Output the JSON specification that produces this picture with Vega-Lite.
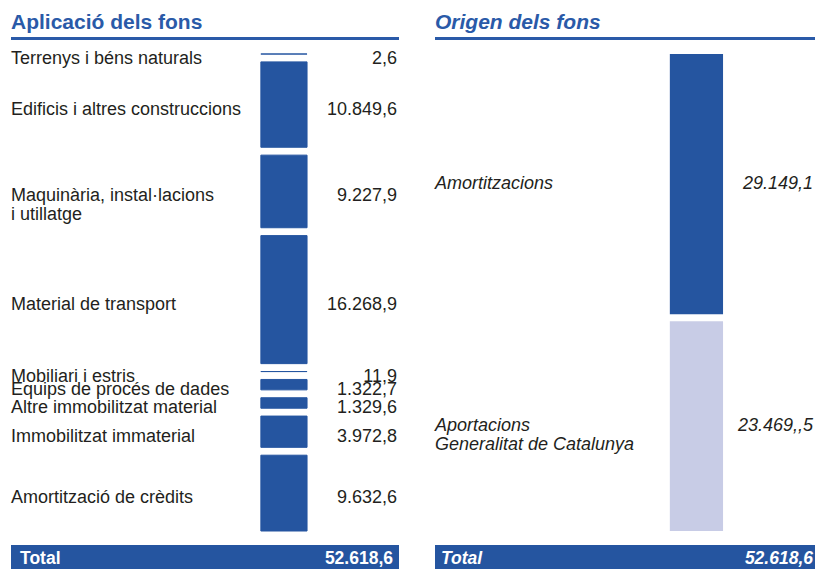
{
  "$schema": "https://vega.github.io/schema/vega-lite/v6.json",
  "padding": {"left": 11, "top": 12, "right": 5, "bottom": 0},
  "config": {"view": {"stroke": null}, "font": "Liberation Sans"},
  "datasets": {
    "aplicacio": [
      {"order": 1, "name": "Terrenys i béns naturals", "amount": 2.6, "text": "2,6"},
      {"order": 2, "name": "Edificis i altres construccions", "amount": 10849.6, "text": "10.849,6"},
      {"order": 3, "name": "Maquinària, instal·lacions\ni utillatge", "amount": 9227.9, "text": "9.227,9"},
      {"order": 4, "name": "Material de transport", "amount": 16268.9, "text": "16.268,9"},
      {"order": 5, "name": "Mobiliari i estris", "amount": 11.9, "text": "11,9"},
      {"order": 6, "name": "Equips de procés de dades", "amount": 1322.7, "text": "1.322,7"},
      {"order": 7, "name": "Altre immobilitzat material", "amount": 1329.6, "text": "1.329,6"},
      {"order": 8, "name": "Immobilitzat immaterial", "amount": 3972.8, "text": "3.972,8"},
      {"order": 9, "name": "Amortització de crèdits", "amount": 9632.6, "text": "9.632,6"}
    ],
    "origen": [
      {"order": 1, "name": "Amortitzacions", "amount": 29149.1, "text": "29.149,1"},
      {"order": 2, "name": "Aportacions\nGeneralitat de Catalunya", "amount": 23469.5, "text": "23.469,,5"}
    ],
    "totals": [
      {"panel": "aplicacio", "label": "Total", "text": "52.618,6"},
      {"panel": "origen", "label": "Total", "text": "52.618,6"}
    ]
  },
  "spacing": 36,
  "resolve": {"scale": {"x": "independent", "y": "independent", "color": "independent"}},
  "hconcat": [
    {
      "spacing": 14,
      "bounds": "flush",
      "resolve": {"scale": {"x": "independent", "y": "independent"}},
      "vconcat": [
        {
          "width": 388, "height": 3,
          "data": {"values": [{"title": "Aplicació dels fons"}]},
          "title": {"text": "Aplicació dels fons", "anchor": "start", "frame": "group", "fontSize": 21, "fontWeight": "bold", "font": "Liberation Sans", "color": "#2a5aa8", "baseline": "alphabetic", "offset": -13},
          "mark": {"type": "rect", "color": "#2a5aa8"},
          "encoding": {
            "x": {"datum": 0, "type": "quantitative", "scale": {"domain": [0, 1], "nice": false}, "axis": null},
            "x2": {"datum": 1},
            "y": {"datum": 0, "type": "quantitative", "scale": {"domain": [0, 1], "nice": false}, "axis": null},
            "y2": {"datum": 1}
          }
        },
        {
          "width": 388, "height": 477,
          "data": {"name": "aplicacio"},
          "transform": [
            {"window": [{"op": "sum", "field": "amount", "as": "cum"}, {"op": "row_number", "as": "idx"}], "sort": [{"field": "order", "order": "ascending"}]},
            {"calculate": "datum.cum - datum.amount + (datum.idx - 1) * 1000", "as": "y0"},
            {"calculate": "datum.cum + (datum.idx - 1) * 1000", "as": "y1"},
            {"calculate": "(datum.y0 + datum.y1) / 2", "as": "ymid"}
          ],
          "layer": [
            {
              "mark": {"type": "rect", "color": "#2555a0", "stroke": "#2555a0", "strokeWidth": 1},
              "encoding": {
                "x": {"datum": 64.4, "type": "quantitative", "scale": {"domain": [0, 100], "nice": false, "zero": false}, "axis": null},
                "x2": {"datum": 76.3},
                "y": {"field": "y0", "type": "quantitative", "scale": {"reverse": true, "nice": false, "zero": true}, "axis": null},
                "y2": {"field": "y1"}
              }
            },
            {
              "mark": {"type": "text", "align": "left", "baseline": "middle", "dy": 5, "fontSize": 18, "lineBreak": "\n", "lineHeight": 19, "color": "#231f20"},
              "encoding": {
                "x": {"datum": 0, "type": "quantitative"},
                "y": {"field": "ymid", "type": "quantitative"},
                "text": {"field": "name"}
              }
            },
            {
              "mark": {"type": "text", "align": "right", "baseline": "middle", "dy": 5, "fontSize": 18, "color": "#231f20"},
              "encoding": {
                "x": {"datum": 99.5, "type": "quantitative"},
                "y": {"field": "ymid", "type": "quantitative"},
                "text": {"field": "text"}
              }
            }
          ]
        },
        {
          "width": 388, "height": 28,
          "data": {"name": "totals"},
          "transform": [{"filter": "datum.panel == 'aplicacio'"}],
          "layer": [
            {
              "mark": {"type": "rect", "color": "#2555a0"},
              "encoding": {
                "x": {"datum": 0, "type": "quantitative", "scale": {"domain": [0, 1], "nice": false}, "axis": null},
                "x2": {"datum": 1},
                "y": {"datum": 0, "type": "quantitative", "scale": {"domain": [0, 1], "nice": false}, "axis": null},
                "y2": {"datum": 1}
              }
            },
            {
              "mark": {"type": "text", "align": "left", "baseline": "middle", "dx": 9, "fontSize": 17.5, "fontWeight": "bold", "color": "white"},
              "encoding": {"x": {"datum": 0, "type": "quantitative"}, "text": {"field": "label"}}
            },
            {
              "mark": {"type": "text", "align": "right", "baseline": "middle", "dx": -6, "fontSize": 17.5, "fontWeight": "bold", "color": "white"},
              "encoding": {"x": {"datum": 1, "type": "quantitative"}, "text": {"field": "text"}}
            }
          ]
        }
      ]
    },
    {
      "spacing": 14,
      "bounds": "flush",
      "resolve": {"scale": {"x": "independent", "y": "independent"}},
      "vconcat": [
        {
          "width": 380, "height": 3,
          "data": {"values": [{"title": "Origen dels fons"}]},
          "title": {"text": "Origen dels fons", "anchor": "start", "frame": "group", "fontSize": 21, "fontWeight": "bold", "fontStyle": "italic", "font": "Liberation Sans", "color": "#2a5aa8", "baseline": "alphabetic", "offset": -13},
          "mark": {"type": "rect", "color": "#2a5aa8"},
          "encoding": {
            "x": {"datum": 0, "type": "quantitative", "scale": {"domain": [0, 1], "nice": false}, "axis": null},
            "x2": {"datum": 1},
            "y": {"datum": 0, "type": "quantitative", "scale": {"domain": [0, 1], "nice": false}, "axis": null},
            "y2": {"datum": 1}
          }
        },
        {
          "width": 380, "height": 477,
          "data": {"name": "origen"},
          "transform": [
            {"window": [{"op": "sum", "field": "amount", "as": "cum"}, {"op": "row_number", "as": "idx"}], "sort": [{"field": "order", "order": "ascending"}]},
            {"calculate": "datum.cum - datum.amount + (datum.idx - 1) * 784", "as": "y0"},
            {"calculate": "datum.cum + (datum.idx - 1) * 784", "as": "y1"},
            {"calculate": "(datum.y0 + datum.y1) / 2", "as": "ymid"}
          ],
          "layer": [
            {
              "mark": {"type": "rect"},
              "encoding": {
                "x": {"datum": 61.8, "type": "quantitative", "scale": {"domain": [0, 100], "nice": false, "zero": false}, "axis": null},
                "x2": {"datum": 75.8},
                "y": {"field": "y0", "type": "quantitative", "scale": {"reverse": true, "nice": false, "zero": true}, "axis": null},
                "y2": {"field": "y1"},
                "color": {"field": "name", "type": "nominal", "scale": {"domain": ["Amortitzacions", "Aportacions\nGeneralitat de Catalunya"], "range": ["#2555a0", "#c8cce6"]}, "legend": null}
              }
            },
            {
              "mark": {"type": "text", "align": "left", "baseline": "middle", "dy": 0, "fontSize": 18, "fontStyle": "italic", "lineBreak": "\n", "lineHeight": 19, "color": "#231f20"},
              "encoding": {
                "x": {"datum": 0, "type": "quantitative"},
                "y": {"field": "ymid", "type": "quantitative"},
                "text": {"field": "name"}
              }
            },
            {
              "mark": {"type": "text", "align": "right", "baseline": "middle", "dy": 0, "fontSize": 18, "fontStyle": "italic", "color": "#231f20"},
              "encoding": {
                "x": {"datum": 99.5, "type": "quantitative"},
                "y": {"field": "ymid", "type": "quantitative"},
                "text": {"field": "text"}
              }
            }
          ]
        },
        {
          "width": 380, "height": 28,
          "data": {"name": "totals"},
          "transform": [{"filter": "datum.panel == 'origen'"}],
          "layer": [
            {
              "mark": {"type": "rect", "color": "#2555a0"},
              "encoding": {
                "x": {"datum": 0, "type": "quantitative", "scale": {"domain": [0, 1], "nice": false}, "axis": null},
                "x2": {"datum": 1},
                "y": {"datum": 0, "type": "quantitative", "scale": {"domain": [0, 1], "nice": false}, "axis": null},
                "y2": {"datum": 1}
              }
            },
            {
              "mark": {"type": "text", "align": "left", "baseline": "middle", "dx": 6, "fontSize": 17.5, "fontWeight": "bold", "fontStyle": "italic", "color": "white"},
              "encoding": {"x": {"datum": 0, "type": "quantitative"}, "text": {"field": "label"}}
            },
            {
              "mark": {"type": "text", "align": "right", "baseline": "middle", "dx": -2, "fontSize": 17.5, "fontWeight": "bold", "fontStyle": "italic", "color": "white"},
              "encoding": {"x": {"datum": 1, "type": "quantitative"}, "text": {"field": "text"}}
            }
          ]
        }
      ]
    }
  ]
}
